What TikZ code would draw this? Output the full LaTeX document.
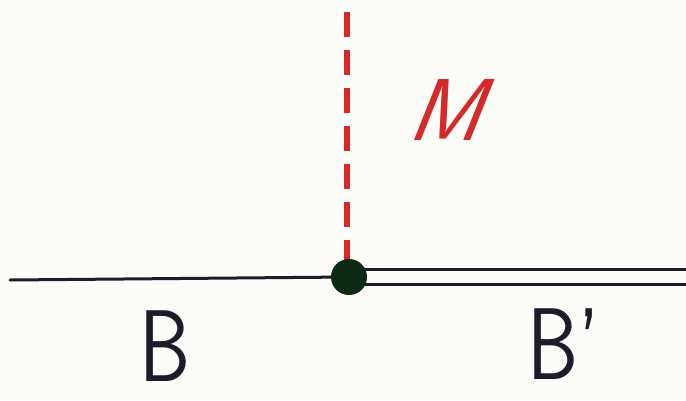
\documentclass[tikz,border=0pt]{standalone}
\usepackage{fontspec}
\definecolor{bg}{RGB}{252,252,248}
\definecolor{ink}{RGB}{28,28,42}
\definecolor{mred}{RGB}{212,42,42}
\definecolor{dotgreen}{RGB}{12,42,22}
\tikzset{
  inkline/.style={draw=ink, line width=3pt, line cap=round},
  redline/.style={draw=mred, line width=6pt, dash pattern=on 25pt off 13pt},
  junction/.style={circle, fill=dotgreen, inner sep=0pt, minimum size=36pt},
  handlabel/.style={font=\sffamily\fontsize{102}{102}\selectfont, text=ink, inner sep=0pt, xscale=0.8},
}
\begin{document}
\begin{tikzpicture}[x=1pt,y=-1pt]
\fill[bg] (0,0) rectangle (686,400);
\useasboundingbox (0,0) rectangle (686,400);
\coordinate (L) at (10,280);
\coordinate (DT) at (349,269);
\coordinate (DB) at (349,284);
\coordinate (RT) at (686,269);
\coordinate (RB) at (686,284);
\coordinate (T) at (347,12);
\coordinate (C) at (349,277);
\draw[inkline] (L) -- (C);
\draw[inkline] (DT) -- (RT);
\draw[inkline] (DB) -- (RB);
\draw[redline] (T) -- (347,262);
\node[junction] (D) at (C) {};
\node[font=\sffamily\fontsize{88}{88}\selectfont, text=mred, inner sep=0pt, xslant=0.4] (M) at (455,110) {M};
\node[handlabel, anchor=base] (B) at (165,381) {B};
\node[handlabel, anchor=base west] (Bp) at (527,379) {B'};
\end{tikzpicture}
\end{document}
